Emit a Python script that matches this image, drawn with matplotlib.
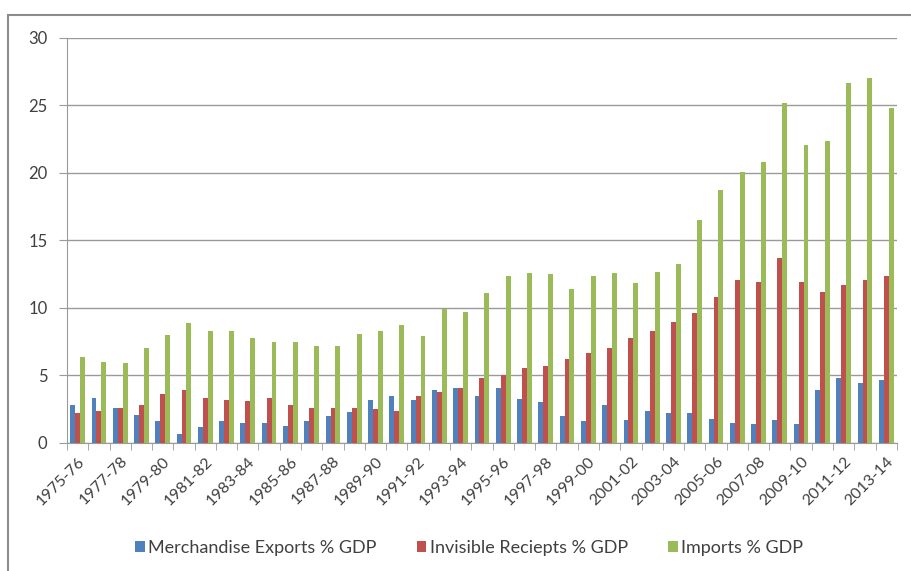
import numpy as np
import matplotlib.pyplot as plt
from matplotlib.patches import Rectangle

plt.rcParams['font.family'] = ['Lato', 'DejaVu Sans']

years = [f"{y}-{str(y + 1)[-2:]}" for y in range(1975, 2014)]

exports = [2.8, 3.3, 2.6, 2.1, 1.6, 0.7, 1.2, 1.6, 1.5, 1.5, 1.25, 1.6,
           2.0, 2.3, 3.2, 3.45, 3.2, 3.9, 4.1, 3.5, 4.1, 3.25, 3.0, 2.0,
           1.6, 2.85, 1.7, 2.35, 2.2, 2.2, 1.8, 1.5, 1.4, 1.7, 1.4, 3.95,
           4.8, 4.45, 4.65]
invisibles = [2.2, 2.35, 2.6, 2.85, 3.6, 3.95, 3.3, 3.2, 3.1, 3.3, 2.8, 2.6,
              2.6, 2.6, 2.5, 2.35, 3.5, 3.75, 4.1, 4.8, 5.05, 5.55, 5.7, 6.2,
              6.7, 7.0, 7.8, 8.3, 8.95, 9.6, 10.8, 12.1, 11.9, 13.7, 11.9, 11.15,
              11.7, 12.1, 12.4]
imports = [6.4, 6.0, 5.9, 7.0, 8.0, 8.9, 8.3, 8.3, 7.8, 7.5, 7.5, 7.2,
           7.2, 8.1, 8.3, 8.75, 7.9, 9.9, 9.7, 11.1, 12.35, 12.6, 12.5, 11.4,
           12.35, 12.6, 11.85, 12.7, 13.25, 16.5, 18.75, 20.05, 20.8, 25.2, 22.05, 22.35,
           26.65, 27.05, 24.8]

series = [
    ("Merchandise Exports % GDP", exports, "#4F81BD"),
    ("Invisible Reciepts % GDP", invisibles, "#C0504D"),
    ("Imports % GDP", imports, "#9BBB59"),
]

fig = plt.figure(figsize=(9.11, 5.71), dpi=100)
ax = fig.add_axes([0.0735, 0.2242, 0.911, 0.7093])

# outer chart border
fig.add_artist(Rectangle((8 / 911, -0.05), 1.0, 1.05 - 15 / 571, transform=fig.transFigure,
                         fill=False, edgecolor="#8c8c8c", linewidth=1.5, clip_on=False))

x = np.arange(len(years))
w = 0.23
for i, (label, vals, color) in enumerate(series):
    ax.bar(x + (i - 1) * w, vals, width=w, color=color, label=label, zorder=3)

ax.set_xlim(-0.5, len(years) - 0.5)
ax.set_ylim(0, 30)
ax.set_yticks(range(0, 31, 5))
ax.yaxis.grid(True, color="#9a9a9a", linewidth=1.0, zorder=0)

ax.set_xticks(x[::2])
ax.set_xticklabels(years[::2], rotation=45, ha="right", rotation_mode="anchor",
                   fontsize=11.5, color="#404040")
ax.set_xticks(np.arange(-0.5, len(years)), minor=True)
ax.tick_params(axis="x", which="major", length=0, pad=8)
ax.tick_params(axis="x", which="minor", length=5, color="#9a9a9a")
ax.tick_params(axis="y", length=6, color="#9a9a9a", labelsize=12, labelcolor="#404040", pad=8)

for side in ("top", "right"):
    ax.spines[side].set_visible(False)
for side in ("left", "bottom"):
    ax.spines[side].set_color("#9a9a9a")

fig.legend(loc="center", bbox_to_anchor=(0.515, 0.04), ncol=3, frameon=False,
           fontsize=13, handlelength=0.55, handleheight=0.55, handletextpad=0.2,
           columnspacing=2.2, labelcolor="#404040")

fig.savefig("out.png", dpi=100)
